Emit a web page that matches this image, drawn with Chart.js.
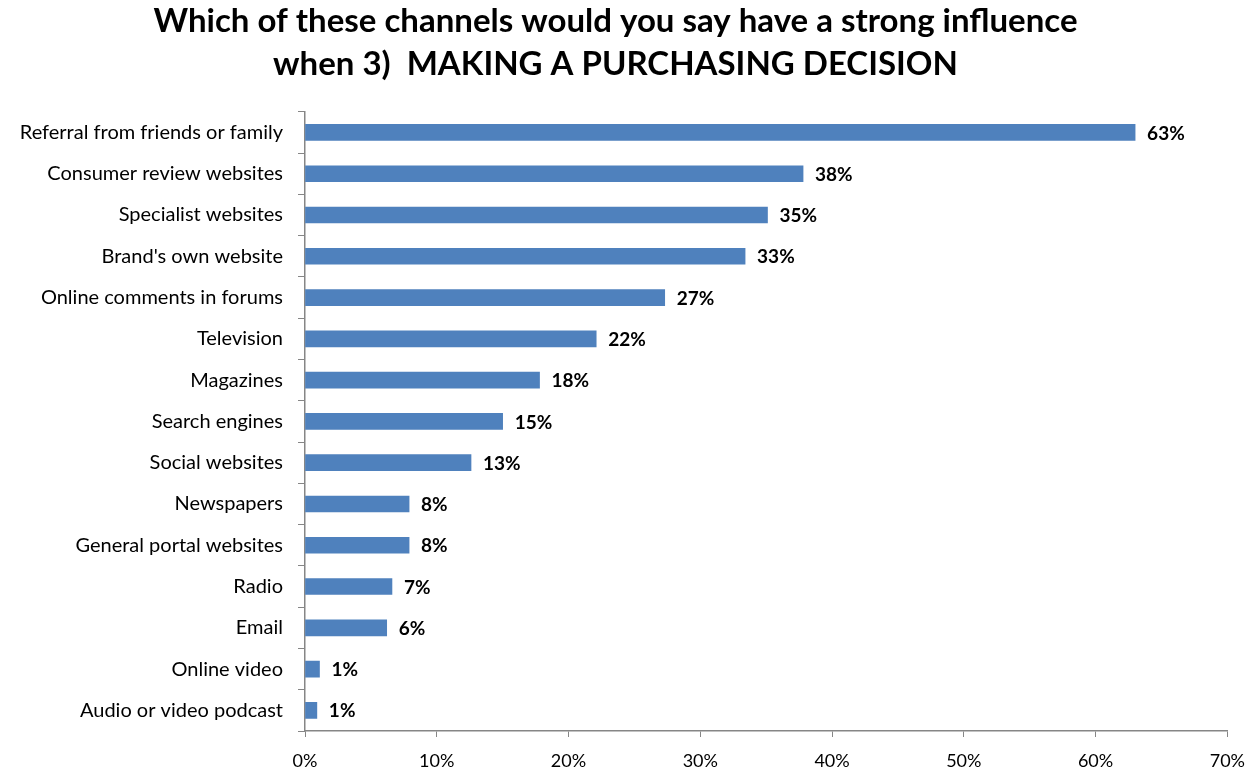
<!DOCTYPE html>
<html>
<head>
<meta charset="utf-8">
<script src="https://cdn.jsdelivr.net/npm/chart.js@4/dist/chart.umd.min.js"></script>
<style>
  html, body { margin: 0; padding: 0; background: #fff; }
  #wrap { width: 1258px; height: 772px; }
</style>
</head>
<body>
<div id="wrap"><canvas id="myChart"></canvas></div>
<script>
const channels = ['Referral from friends or family', 'Consumer review websites', 'Specialist websites',
  "Brand's own website", 'Online comments in forums', 'Television', 'Magazines', 'Search engines',
  'Social websites', 'Newspapers', 'General portal websites', 'Radio', 'Email', 'Online video',
  'Audio or video podcast']
const shares = [63.0, 37.8, 35.1, 33.4, 27.3, 22.1, 17.8, 15.0, 12.6, 7.9, 7.9, 6.6, 6.2, 1.1, 0.9]
const xTicks = [0, 10, 20, 30, 40, 50, 60, 70]

const axisGrey = '#868686'

// value labels to the right of each bar
const barLabels = {
  id: 'barLabels',
  afterDatasetsDraw(chart) {
    const c = chart.ctx
    c.save()
    c.font = 'bold 19px Lato'
    c.fillStyle = '#000'
    c.textBaseline = 'middle'
    chart.getDatasetMeta(0).data.forEach((bar, i) => {
      c.fillText(Math.round(shares[i]) + '%', bar.x + 12, bar.y + 1)
    })
    c.restore()
  }
}

const ctx = document.getElementById('myChart')
const myChart = new Chart(ctx, {
  type: 'bar',
  data: {
    labels: channels,
    datasets: [{
      data: shares,
      backgroundColor: '#4F81BD',
      barThickness: 16
    }]
  },
  plugins: [barLabels],
  options: {
    responsive: true,
    maintainAspectRatio: false,
    animation: false,
    indexAxis: 'y',
    layout: { padding: { left: 0, right: 27, top: 0, bottom: 0 } },
    plugins: {
      legend: { display: false },
      tooltip: { enabled: false },
      title: {
        display: true,
        text: ['Which of these channels would you say have a strong influence',
               'when 3)  MAKING A PURCHASING DECISION'],
        color: '#000',
        font: { family: 'Lato', size: 33, weight: 'bold', lineHeight: 1.3 },
        padding: { top: 0, bottom: 26 }
      }
    },
    scales: {
      x: {
        min: 0,
        max: 70,
        afterBuildTicks: (s) => { s.ticks = xTicks.map(v => ({ value: v })) },
        afterFit: (s) => { s.height = 41 },
        ticks: {
          callback: v => v + '%',
          color: '#000',
          padding: 13,
          maxRotation: 0,
          font: { family: 'Lato', size: 18 }
        },
        grid: { drawOnChartArea: false, tickLength: 6, color: axisGrey },
        border: { color: axisGrey, width: 1.5 }
      },
      y: {
        afterFit: (s) => { s.width = 305 },
        ticks: {
          color: '#000',
          padding: 15,
          font: { family: 'Lato', size: 20 }
        },
        grid: { offset: true, drawOnChartArea: false, tickLength: 7, color: axisGrey },
        border: { color: axisGrey, width: 1.5 }
      }
    }
  }
})
</script>
</body>
</html>
